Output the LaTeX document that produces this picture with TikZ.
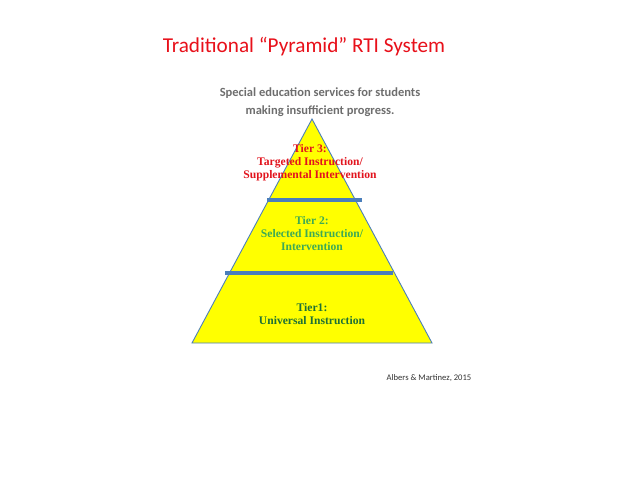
\documentclass[tikz,border=0pt]{standalone}
\usepackage{fontspec}
\setmainfont{Liberation Serif}
\newfontfamily\calib{Carlito}
\definecolor{titlered}{HTML}{E8101A}
\definecolor{subgray}{HTML}{6E6E6E}
\definecolor{tierred}{HTML}{E2131D}
\definecolor{tiergreen}{HTML}{3DAA55}
\definecolor{tierdark}{HTML}{1E7036}
\definecolor{edgeblue}{HTML}{4A7EBB}
\definecolor{pyryellow}{HTML}{FFFF00}
\tikzset{
  tiertext/.style={font=\bfseries\fontsize{11.6}{13}\selectfont, align=center, inner sep=0pt},
  divider/.style={draw=edgeblue, line width=3.3pt},
}
\begin{document}
\begin{tikzpicture}[x=1pt,y=-1pt]
\useasboundingbox (0,0) rectangle (640,480);
\fill[white] (0,0) rectangle (640,480);
\coordinate (apex) at (312,119);
\coordinate (bl) at (192,343);
\coordinate (br) at (432,343);
\filldraw[fill=pyryellow, draw=edgeblue, line width=0.9pt] (apex) -- (br) -- (bl) -- cycle;
\coordinate (d1l) at (267,200);
\coordinate (d1r) at (362,200);
\coordinate (d2l) at (225,273);
\coordinate (d2r) at (393,273);
\draw[divider] (d1l) -- (d1r);
\draw[divider] (d2l) -- (d2r);
\node[font=\calib\fontsize{21.2}{24}\selectfont, text=titlered] (title) at (304,47) {Traditional “Pyramid” RTI System};
\node[font=\calib\bfseries\fontsize{12.5}{18}\selectfont, text=subgray, align=center] (sub) at (320,102) {Special education services for students\\making insufficient progress.};
\node[tiertext, text=tierred] (t3) at (310,163) {Tier 3:\\Targeted Instruction/\\Supplemental Intervention};
\node[tiertext, text=tiergreen] (t2) at (312,234) {Tier 2:\\Selected Instruction/\\Intervention};
\node[tiertext, text=tierdark] (t1) at (312,314) {Tier1:\\Universal Instruction};
\node[font=\calib\fontsize{8.6}{10}\selectfont, text=black!80] (cite) at (429,378) {Albers \& Martinez, 2015};
\end{tikzpicture}
\end{document}
